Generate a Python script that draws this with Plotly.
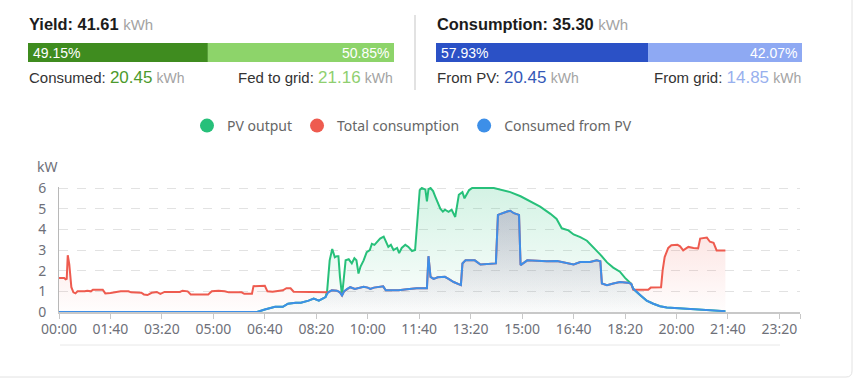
import plotly.graph_objects as go

W, H = 867, 386

# ---------------- summary figures ----------------
yield_total = "41.61"
yield_consumed = "20.45"
yield_fed = "21.16"
yield_pct = [49.15, 50.85]
cons_total = "35.30"
cons_from_pv = "20.45"
cons_from_grid = "14.85"
cons_pct = [57.93, 42.07]

series_names = ["PV output", "Total consumption", "Consumed from PV"]
series_colors = ["#27c07a", "#ee5b4f", "#3d8fe8"]

x_tick_labels = ["00:00", "01:40", "03:20", "05:00", "06:40", "08:20", "10:00",
                 "11:40", "13:20", "15:00", "16:40", "18:20", "20:00", "21:40", "23:20"]
y_tick_values = [0, 1, 2, 3, 4, 5, 6]
day_end_min = 1440

# ---------------- time series (minutes since midnight, kW) ----------------
pv_t = [0, 385, 400, 410, 420, 435, 445, 460, 470, 485, 495, 505, 512, 518, 521, 526, 531, 536,
        540, 543, 546, 550, 553, 557, 563, 569, 574, 578, 582, 586, 592, 598, 604, 608, 613, 619,
        624, 631, 636, 640, 645, 650, 657, 661, 666, 673, 679, 686, 692, 697, 701, 705, 712, 715,
        718, 722, 727, 731, 736, 741, 746, 750, 757, 763, 770, 777, 784, 788, 797, 803, 845, 858,
        877, 897, 916, 935, 955, 967, 977, 990, 1000, 1013, 1026, 1039, 1052, 1065, 1077, 1090,
        1100, 1112, 1116, 1129, 1142, 1155, 1168, 1181, 1213, 1246, 1278, 1295]
pv_kw = [0, 0, 0.12, 0.2, 0.25, 0.25, 0.4, 0.45, 0.45, 0.55, 0.65, 0.55, 0.65, 0.72, 1.0, 2.5, 3.05, 2.65,
         2.7, 2.7, 1.7, 0.8, 1.5, 2.5, 2.55, 2.35, 2.6, 2.5, 1.86, 2.2, 2.5, 2.9, 3.0, 3.3, 3.25, 3.4,
         3.55, 3.65, 3.4, 3.15, 3.25, 3.0, 3.1, 2.85, 3.1, 3.25, 3.15, 2.95, 3.0, 4.45, 5.9, 6.0, 5.92, 5.35,
         5.95, 6.0, 5.85, 5.6, 5.27, 5.0, 4.86, 4.95, 4.85, 4.95, 4.6, 5.67, 5.8, 5.5, 5.9, 6.0, 6.0, 5.92,
         5.8, 5.6, 5.35, 5.1, 4.75, 4.5, 4.05, 3.95, 3.75, 3.62, 3.45, 3.12, 2.78, 2.4, 2.15, 1.95,
         1.65, 1.36, 1.12, 0.82, 0.55, 0.4, 0.28, 0.22, 0.16, 0.1, 0.05, 0.04]

load_t = [0, 10, 13, 15, 17, 20, 24, 28, 32, 36, 50, 55, 62, 66, 85, 90, 100, 110, 120, 135, 140, 160,
          165, 172, 180, 190, 197, 205, 235, 240, 250, 256, 290, 297, 310, 322, 330, 355, 360, 375,
          378, 400, 405, 415, 435, 442, 450, 456, 470, 490, 512, 518,
          523, 530, 540, 546, 550, 554, 560, 566, 575, 582, 592, 600, 605, 612, 620, 630, 635, 650,
          660, 676, 695, 715, 718, 722, 728, 736, 742, 750, 757, 767, 781, 784, 790, 808, 819, 849,
          853, 861, 871, 877, 884, 894, 897, 910, 929, 948, 968, 1000, 1013, 1032, 1045, 1052, 1055,
          1065, 1077, 1090, 1105, 1112,
          1116, 1145, 1150, 1170, 1173, 1177, 1184, 1190, 1202, 1207, 1213, 1223, 1233, 1242, 1246,
          1259, 1265, 1272, 1278, 1295]
load_kw = [1.65, 1.65, 1.58, 1.6, 2.75, 2.3, 1.2, 0.95, 0.9, 1.0, 1.0, 1.03, 1.0, 1.08, 1.08, 0.9, 0.92, 0.95, 1.0, 1.0, 0.95, 0.93,
           0.85, 0.82, 0.93, 0.97, 0.88, 0.97, 0.97, 1.03, 1.0, 0.85, 0.85, 1.0, 1.03, 1.0, 0.95, 0.95, 0.88, 0.88,
           1.25, 1.27, 1.0, 0.98, 1.05, 1.15, 1.15, 0.98, 0.98, 0.95, 0.95, 0.95,
           0.95, 1.05, 1.03, 0.95, 0.8, 1.0, 1.12, 1.2, 1.12, 1.15, 1.22, 1.18, 1.12, 1.18, 1.22, 1.24, 1.05, 1.03,
           1.05, 1.1, 1.15, 1.15, 2.7, 1.7, 1.6, 1.68, 1.7, 1.7, 1.6, 1.45, 1.3, 2.35, 2.5, 2.5, 2.3, 2.35,
           4.7, 4.78, 4.86, 4.9, 4.78, 4.7, 2.27, 2.5, 2.48, 2.45, 2.47, 2.3, 2.42, 2.42, 2.5, 2.45, 1.38,
           1.3, 1.38, 1.45, 1.42, 1.36,
           1.08, 1.08, 1.18, 1.2, 2.0, 2.66, 3.1, 3.23, 3.25, 3.18, 2.98, 3.15, 3.1, 3.08, 3.55,
           3.6, 3.4, 3.35, 2.98, 2.98]

self_t = [0, 385, 400, 410, 420, 435, 445, 460, 470, 485, 495, 505, 512, 518,
          523, 530, 540, 546, 550, 554, 560, 566, 575, 582, 592, 600, 605, 612, 620, 630, 635, 650,
          660, 676, 695, 715, 718, 722, 728, 736, 742, 750, 757, 767, 781, 784, 790, 808, 819, 849,
          853, 861, 871, 877, 884, 894, 897, 910, 929, 948, 968, 1000, 1013, 1032, 1045, 1052, 1055,
          1065, 1077, 1090, 1105, 1112, 1116, 1129, 1142, 1155, 1168, 1181, 1213, 1246, 1278, 1295]
self_kw = [0, 0, 0.12, 0.2, 0.25, 0.25, 0.4, 0.45, 0.45, 0.55, 0.65, 0.55, 0.65, 0.72,
           0.95, 1.05, 1.03, 0.95, 0.8, 1.0, 1.12, 1.2, 1.12, 1.15, 1.22, 1.18, 1.12, 1.18, 1.22, 1.24, 1.05, 1.03,
           1.05, 1.1, 1.15, 1.15, 2.7, 1.7, 1.6, 1.68, 1.7, 1.7, 1.6, 1.45, 1.3, 2.35, 2.5, 2.5, 2.3, 2.35,
           4.7, 4.78, 4.86, 4.9, 4.78, 4.7, 2.27, 2.5, 2.48, 2.45, 2.47, 2.3, 2.42, 2.42, 2.5, 2.45, 1.38,
           1.3, 1.38, 1.45, 1.42, 1.36, 1.12, 0.82, 0.55, 0.4, 0.28, 0.22, 0.16, 0.1, 0.05, 0.04]


def px(x):
    return x / W


def py(y):
    return 1 - y / H


def to_min(label):
    h, m = label.split(":")
    return int(h) * 60 + int(m)


def rgba(hex_color, a):
    h = hex_color.lstrip("#")
    return "rgba(%d,%d,%d,%.3f)" % (int(h[0:2], 16), int(h[2:4], 16), int(h[4:6], 16), a)


fig = go.Figure()

series = [(pv_t, pv_kw, 0.20), (load_t, load_kw, 0.20), (self_t, self_kw, 0.20)]
for (tx, ty, alpha), name, col in zip(series, series_names, series_colors):
    fig.add_trace(go.Scatter(
        x=tx, y=ty, mode="lines", name=name, showlegend=False,
        line=dict(color=col, width=2), fill="tozeroy",
        fillgradient=dict(type="vertical",
                          colorscale=[[0, rgba(col, 0.01)], [1, rgba(col, alpha)]]),
        hoverinfo="skip",
    ))

# legend entries (circle symbols, as in the reference)
for name, col in zip(series_names, series_colors):
    fig.add_trace(go.Scatter(x=[None], y=[None], mode="markers", name=name,
                             marker=dict(color=col, size=14, symbol="circle")))

tick_vals = [to_min(s) for s in x_tick_labels] + [day_end_min]
tick_text = x_tick_labels + [""]

fig.update_layout(
    width=W, height=H,
    margin=dict(l=0, r=0, t=0, b=0, pad=0, autoexpand=False),
    paper_bgcolor="white", plot_bgcolor="rgba(0,0,0,0)",
    hovermode=False,
    xaxis=dict(domain=[px(59), px(800)], range=[0, day_end_min], tickvals=tick_vals, ticktext=tick_text,
               automargin=False,
               showgrid=False, zeroline=False, showline=True, linecolor="#c8c8c8", linewidth=2,
               ticks="outside", ticklen=5, tickcolor="#c8c8c8", tickwidth=1, ticklabelstandoff=-2,
               tickfont=dict(family="Noto Sans", size=14, color="#6e7079"), fixedrange=True),
    yaxis=dict(domain=[py(312), py(312 - 6.06 * 124 / 6)], range=[0, 6.06], tickvals=y_tick_values,
               automargin=False,
               showgrid=True, gridcolor="#e2e2e2", griddash="dash", gridwidth=1,
               zeroline=False, showline=True, linecolor="#b8b8b8", linewidth=1,
               ticks="", ticklabelstandoff=9,
               tickfont=dict(family="Noto Sans", size=14, color="#6e7079"), fixedrange=True),
    legend=dict(orientation="h", x=px(412), xanchor="center", y=py(126), yanchor="middle",
                font=dict(family="Noto Sans", size=14, color="#666666"),
                itemwidth=30, bgcolor="rgba(0,0,0,0)", traceorder="normal"),
)

shapes = []
annotations = []

# card border (right & bottom edges visible)
shapes.append(dict(type="path", xref="paper", yref="paper",
                   path="M %f,%f L %f,%f Q %f,%f %f,%f L %f,%f" % (
                       px(852), py(0), px(852), py(371), px(852), py(377), px(846), py(377), px(0), py(377)),
                   line=dict(color="#e2e2e2", width=1)))
# divider between the two summaries
shapes.append(dict(type="line", xref="paper", yref="paper", x0=px(415), x1=px(415), y0=py(15), y1=py(90),
                   line=dict(color="#d8d8d8", width=1.5)))
# thin line below the chart
shapes.append(dict(type="line", xref="paper", yref="paper", x0=px(60), x1=px(780), y0=py(345), y1=py(345),
                   line=dict(color="#e8e8e8", width=1)))

HF = "Liberation Sans, Arial, sans-serif"


def summary_block(x0, title, total, pct, dark, light, left_lbl, left_val, left_col,
                  right_lbl, right_val, right_col):
    bw = 366
    split = x0 + bw * pct[0] / 100.0
    shapes.append(dict(type="rect", xref="paper", yref="paper", x0=px(x0), x1=px(split),
                       y0=py(62), y1=py(43), fillcolor=dark, line=dict(width=0)))
    shapes.append(dict(type="rect", xref="paper", yref="paper", x0=px(split), x1=px(x0 + bw),
                       y0=py(62), y1=py(43), fillcolor=light, line=dict(width=0)))
    annotations.append(dict(x=px(x0 - 1), y=py(24), xref="paper", yref="paper", xanchor="left", yanchor="middle",
                            showarrow=False, font=dict(family=HF, size=16.4, color="#1c1c1c"),
                            text="<b>%s: %s</b> <span style='color:#a3a3a3;font-size:15px'>kWh</span>" % (title, total)))
    annotations.append(dict(x=px(x0 + 3), y=py(52.5), xref="paper", yref="paper", xanchor="left", yanchor="middle",
                            showarrow=False, font=dict(family=HF, size=14, color="white"),
                            text="%.2f%%" % pct[0]))
    annotations.append(dict(x=px(x0 + bw - 3), y=py(52.5), xref="paper", yref="paper", xanchor="right",
                            yanchor="middle", showarrow=False, font=dict(family=HF, size=14, color="white"),
                            text="%.2f%%" % pct[1]))
    annotations.append(dict(x=px(x0 - 1), y=py(77), xref="paper", yref="paper", xanchor="left", yanchor="middle",
                            showarrow=False, font=dict(family=HF, size=15, color="#333333"),
                            text="%s: <span style='color:%s;font-size:17px'>%s</span> "
                                 "<span style='color:#a3a3a3;font-size:14px'>kWh</span>" % (left_lbl, left_col, left_val)))
    annotations.append(dict(x=px(x0 + bw + 1), y=py(77), xref="paper", yref="paper", xanchor="right",
                            yanchor="middle", showarrow=False, font=dict(family=HF, size=15, color="#333333"),
                            text="%s: <span style='color:%s;font-size:17px'>%s</span> "
                                 "<span style='color:#a3a3a3;font-size:14px'>kWh</span>" % (right_lbl, right_col, right_val)))


summary_block(28, "Yield", yield_total, yield_pct, "#3f8c1f", "#8dd46a",
              "Consumed", yield_consumed, "#4c9a2c", "Fed to grid", yield_fed, "#8fcf70")
summary_block(436, "Consumption", cons_total, cons_pct, "#2b51c6", "#8ea9f3",
              "From PV", cons_from_pv, "#3458b8", "From grid", cons_from_grid, "#98b0ee")

# y-axis unit
annotations.append(dict(x=px(47), y=py(166), xref="paper", yref="paper", xanchor="center", yanchor="middle",
                        showarrow=False, font=dict(family="Noto Sans", size=14, color="#6e7079"), text="kW"))

fig.update_layout(shapes=shapes, annotations=annotations)

fig.write_html("out.html", config={"displayModeBar": False},
               post_script="document.body.style.margin='0';")
